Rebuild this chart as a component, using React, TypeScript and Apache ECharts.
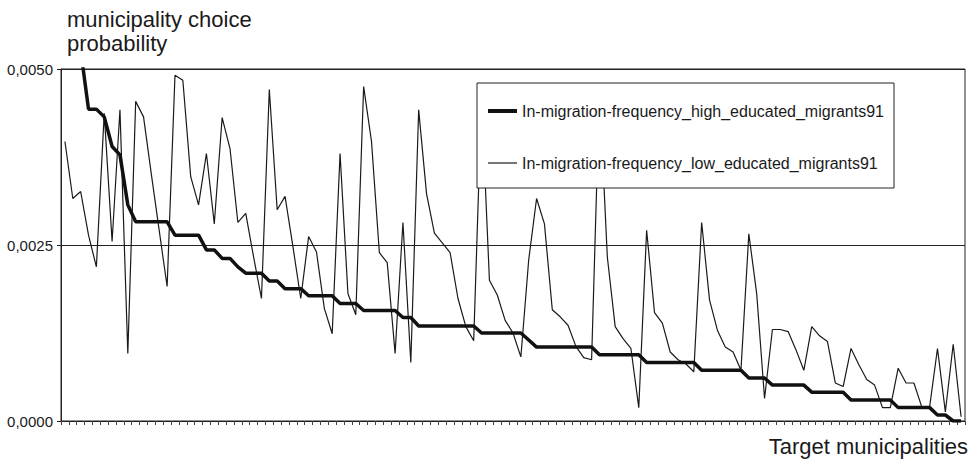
import React, { useEffect, useRef } from "react";
import * as echarts from "echarts";

// 115 target municipalities (ordered by high-educated choice probability)
const categories: string[] = Array.from({ length: 115 }, (_, i) => String(i + 1));

const highEducated: number[] = [
  0.0065, 0.0058, 0.00527, 0.00443, 0.00443, 0.00432, 0.0039, 0.00378, 0.00307, 0.00283,
  0.00283, 0.00283, 0.00283, 0.00283, 0.00264, 0.00264, 0.00264, 0.00264, 0.00243, 0.00243,
  0.00231, 0.00231, 0.00219, 0.0021, 0.0021, 0.0021, 0.00199, 0.00199, 0.00188, 0.00188,
  0.00188, 0.00178, 0.00178, 0.00178, 0.00178, 0.00167, 0.00167, 0.00167, 0.00157, 0.00157,
  0.00157, 0.00157, 0.00157, 0.00147, 0.00147, 0.00135, 0.00135, 0.00135, 0.00135, 0.00135,
  0.00135, 0.00135, 0.00135, 0.00125, 0.00125, 0.00125, 0.00125, 0.00125, 0.00125, 0.00115,
  0.00105, 0.00105, 0.00105, 0.00105, 0.00105, 0.00105, 0.00105, 0.00105, 0.00094, 0.00094,
  0.00094, 0.00094, 0.00094, 0.00094, 0.00083, 0.00083, 0.00083, 0.00083, 0.00083, 0.00083,
  0.00083, 0.00072, 0.00072, 0.00072, 0.00072, 0.00072, 0.00072, 0.00061, 0.00061, 0.00061,
  0.00051, 0.00051, 0.00051, 0.00051, 0.00051, 0.00041, 0.00041, 0.00041, 0.00041, 0.00041,
  0.0003, 0.0003, 0.0003, 0.0003, 0.0003, 0.0003, 0.00019, 0.00019, 0.00019, 0.00019,
  0.00019, 0.000085, 0.000085, 0.0, 0.0,
];

const lowEducated: number[] = [
  0.00397, 0.00316, 0.00326, 0.00264, 0.00219, 0.00437, 0.00255, 0.00442, 0.00096, 0.00454,
  0.00432, 0.0035, 0.0027, 0.00191, 0.00491, 0.00484, 0.00347, 0.00307, 0.0038, 0.0028,
  0.00431, 0.00387, 0.00282, 0.00295, 0.00233, 0.00174, 0.00471, 0.003, 0.00319, 0.00248,
  0.00174, 0.00262, 0.0024, 0.0016, 0.00124, 0.0038, 0.00181, 0.00151, 0.00475, 0.00397,
  0.00239, 0.00225, 0.00096, 0.00282, 0.00083, 0.00442, 0.00323, 0.00267, 0.00253, 0.00239,
  0.00174, 0.00134, 0.00114, 0.0046, 0.002, 0.00179, 0.00143, 0.00125, 0.00091, 0.00229,
  0.00316, 0.0028, 0.00158, 0.00148, 0.00136, 0.00106, 0.0009, 0.00087, 0.0047, 0.00233,
  0.00134, 0.00117, 0.00103, 0.00019, 0.00271, 0.00154, 0.00139, 0.00098, 0.00087, 0.00081,
  0.0007, 0.00282, 0.00172, 0.00129, 0.00105, 0.00098, 0.00072, 0.00266, 0.00181, 0.00032,
  0.0013, 0.0013, 0.00127, 0.00101, 0.00072, 0.00134, 0.00121, 0.00113, 0.00054, 0.00049,
  0.00103, 0.0008, 0.00059, 0.00051, 0.00019, 0.00019, 0.00075, 0.00054, 0.00054, 0.0002,
  0.0002, 0.00103, 0.00013, 0.00109, 0.00006,
];

const yTicks: number[] = [0, 0.0025, 0.005];

const seriesNames = [
  "In-migration-frequency_high_educated_migrants91",
  "In-migration-frequency_low_educated_migrants91",
];

const FONT = "'Liberation Sans', Arial, Helvetica, sans-serif";

export default function App() {
  const ref = useRef<HTMLDivElement>(null);

  useEffect(() => {
    if (!ref.current) return;
    const chart = echarts.init(ref.current, undefined, { renderer: "svg" });
    chart.setOption({
      animation: false,
      backgroundColor: "#ffffff",
      textStyle: { fontFamily: FONT },
      title: {
        text: "municipality choice\nprobability",
        left: 67,
        top: 7,
        padding: 0,
        textStyle: {
          fontFamily: FONT,
          fontSize: 22,
          fontWeight: "normal",
          color: "#1a1a1a",
          lineHeight: 24,
        },
      },
      graphic: [
        {
          type: "text",
          right: 8,
          top: 435,
          style: {
            text: "Target municipalities",
            fontFamily: FONT,
            fontSize: 22,
            fill: "#1a1a1a",
          },
        },
      ],
      legend: {
        orient: "vertical",
        left: 477,
        top: 83,
        padding: [20, 10, 17, 9],
        itemGap: 36,
        itemWidth: 29,
        itemHeight: 14,
        backgroundColor: "#ffffff",
        borderColor: "#222222",
        borderWidth: 1,
        borderRadius: 0,
        z: 10,
        itemStyle: { opacity: 0 },
        textStyle: { fontFamily: FONT, fontSize: 16, color: "#1a1a1a" },
        data: [
          { name: seriesNames[0], lineStyle: { width: 4, color: "#111111" } },
          { name: seriesNames[1], lineStyle: { width: 1.2, color: "#1a1a1a" } },
        ],
      },
      grid: {
        left: 61,
        right: 11,
        top: 69,
        bottom: 39,
        show: true,
        borderColor: "#222222",
        borderWidth: 1,
        backgroundColor: "transparent",
      },
      xAxis: {
        type: "category",
        data: categories,
        boundaryGap: true,
        axisLine: { show: true, lineStyle: { color: "#222222", width: 1 } },
        axisTick: { show: true, interval: 0, length: 4, lineStyle: { color: "#444444", width: 1 } },
        axisLabel: { show: false },
        splitLine: { show: false },
      },
      yAxis: {
        type: "value",
        min: yTicks[0],
        max: yTicks[yTicks.length - 1],
        interval: yTicks[1] - yTicks[0],
        axisLine: { show: true, lineStyle: { color: "#222222", width: 1 } },
        axisTick: { show: true, length: 4, lineStyle: { color: "#222222" } },
        axisLabel: {
          margin: 8,
          fontFamily: FONT,
          fontSize: 15,
          color: "#1a1a1a",
          formatter: (v: number) => v.toFixed(4).replace(".", ","),
        },
        splitLine: { show: true, lineStyle: { color: "#222222", width: 1 } },
      },
      series: [
        {
          name: seriesNames[1],
          type: "line",
          data: lowEducated,
          symbol: "none",
          clip: true,
          z: 2,
          lineStyle: { color: "#1a1a1a", width: 1.2 },
          itemStyle: { color: "#1a1a1a" },
        },
        {
          name: seriesNames[0],
          type: "line",
          data: highEducated,
          symbol: "none",
          clip: true,
          z: 3,
          lineStyle: { color: "#111111", width: 3.5 },
          itemStyle: { color: "#111111" },
        },
      ],
    });
    return () => chart.dispose();
  }, []);

  return (
    <div
      ref={ref}
      style={{ position: "absolute", left: 0, top: 0, width: 976, height: 460 }}
    />
  );
}
